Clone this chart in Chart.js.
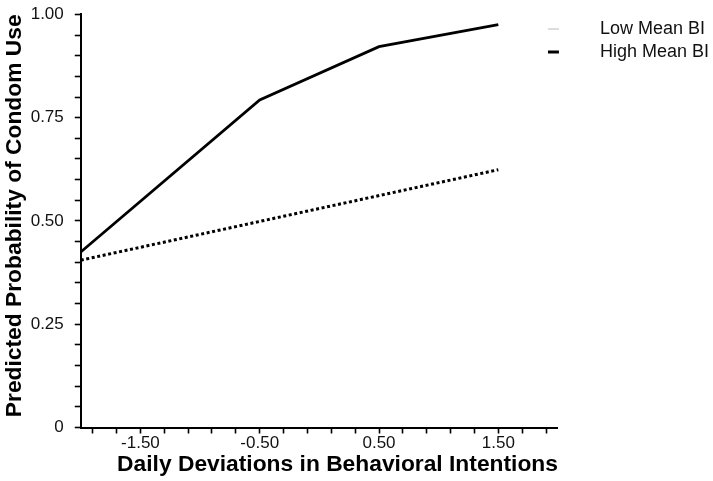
<!DOCTYPE html>
<html>
<head>
<meta charset="utf-8">
<script src="https://cdn.jsdelivr.net/npm/chart.js@4/dist/chart.umd.min.js"></script>
<style>
  html, body { margin: 0; padding: 0; background: #fff; }
  #wrap { width: 713px; height: 481px; }
</style>
</head>
<body>
<div id="wrap"><canvas id="chart"></canvas></div>
<script>
// data
let seriesNames = ["Low Mean BI", "High Mean BI"];
let lowX = [-2.0, 1.5];
let lowY = [0.405, 0.624];
let highX = [-2.0, -0.5, 0.5, 1.5];
let highY = [0.425, 0.793, 0.922, 0.975];

// tick marks and their labels
let xTicks = [-1.9, -1.7, -1.5, -1.3, -1.1, -0.9, -0.7, -0.5, -0.3, -0.1, 0.1, 0.3, 0.5, 0.7, 0.9, 1.1, 1.3, 1.5, 1.7, 1.9];
let xLabelValues = [-1.5, -0.5, 0.5, 1.5];
let xLabelText = ["-1.50", "-0.50", "0.50", "1.50"];
let yTicks = [0, 0.05, 0.1, 0.15, 0.2, 0.25, 0.3, 0.35, 0.4, 0.45, 0.5, 0.55, 0.6, 0.65, 0.7, 0.75, 0.8, 0.85, 0.9, 0.95, 1.0];
let yLabelValues = [0, 0.25, 0.5, 0.75, 1.0];
let yLabelText = ["0", "0.25", "0.50", "0.75", "1.00"];

const FONT = "'Liberation Sans', Arial, Helvetica, sans-serif";

// legend samples: thin grey for low, thick black for high
let swatchColors = ["#bbbbbb", "#000000"];
let swatchWidths = [1, 3];

function toPoints(xs, ys) {
    return xs.map((x, i) => ({ x: x, y: ys[i] }));
}

function labelFor(value, values, texts) {
    let i = values.findIndex(v => Math.abs(v - value) < 1e-6);
    return i >= 0 ? texts[i] : "";
}

// draws the short line samples just left of each legend entry
const legendSwatches = {
    id: "legendSwatches",
    afterDraw(ch) {
        let boxes = ch.legend && ch.legend.legendHitBoxes;
        if (!boxes) return;
        let ctx = ch.ctx;
        ctx.save();
        boxes.forEach((b, i) => {
            let y = b.top + b.height / 2;
            ctx.strokeStyle = swatchColors[i];
            ctx.lineWidth = swatchWidths[i];
            ctx.beginPath();
            ctx.moveTo(b.left - 15, y);
            ctx.lineTo(b.left - 4, y);
            ctx.stroke();
        });
        ctx.restore();
    }
};

let chart = new Chart(document.getElementById("chart"), {
    type: "line",
    data: {
        datasets: [
            {
                label: seriesNames[0],
                data: toPoints(lowX, lowY),
                borderColor: "#000",
                borderWidth: 3,
                borderDash: [3, 2.6],
                pointRadius: 0,
                tension: 0,
                fill: false,
                clip: false
            },
            {
                label: seriesNames[1],
                data: toPoints(highX, highY),
                borderColor: "#000",
                borderWidth: 2.8,
                pointRadius: 0,
                tension: 0,
                fill: false,
                clip: false
            }
        ]
    },
    plugins: [legendSwatches],
    options: {
        responsive: true,
        maintainAspectRatio: false,
        animation: false,
        layout: { padding: { top: 12, left: 0, right: -6, bottom: 4 } },
        plugins: {
            tooltip: { enabled: false },
            legend: {
                position: "right",
                align: "start",
                title: {
                    display: true,
                    text: "",
                    font: { size: 3, lineHeight: 1 },
                    padding: 0
                },
                labels: {
                    boxWidth: 28,
                    boxHeight: 18,
                    padding: 5,
                    color: "#111",
                    font: { family: FONT, size: 18 },
                    generateLabels: ch => ch.data.datasets.map((ds, i) => ({
                        text: ds.label,
                        fillStyle: "rgba(0,0,0,0)",
                        strokeStyle: "rgba(0,0,0,0)",
                        lineWidth: 0,
                        fontColor: "#111",
                        hidden: false,
                        datasetIndex: i
                    }))
                }
            }
        },
        scales: {
            x: {
                type: "linear",
                min: -2,
                max: 2,
                afterBuildTicks: s => { s.ticks = xTicks.map(v => ({ value: v })); },
                ticks: {
                    autoSkip: false,
                    maxRotation: 0,
                    padding: 0,
                    color: "#111",
                    font: { family: FONT, size: 17 },
                    callback: v => labelFor(v, xLabelValues, xLabelText)
                },
                grid: {
                    drawOnChartArea: false,
                    drawTicks: true,
                    tickLength: 6,
                    tickWidth: 1.6,
                    tickColor: "#000"
                },
                border: { display: true, color: "#000", width: 2 },
                title: {
                    display: true,
                    text: "Daily Deviations in Behavioral Intentions",
                    align: "end",
                    color: "#000",
                    font: { family: FONT, size: 22.8, weight: "bold", lineHeight: 1.1 },
                    padding: { top: -2, bottom: 0 }
                }
            },
            y: {
                type: "linear",
                min: 0,
                max: 1,
                afterBuildTicks: s => { s.ticks = yTicks.map(v => ({ value: v })); },
                ticks: {
                    autoSkip: false,
                    padding: 11,
                    color: "#111",
                    font: { family: FONT, size: 17, lineHeight: 0.4 },
                    callback: v => labelFor(v, yLabelValues, yLabelText)
                },
                grid: {
                    drawOnChartArea: false,
                    drawTicks: true,
                    tickLength: 6,
                    tickWidth: 1.6,
                    tickColor: "#000"
                },
                border: { display: true, color: "#000", width: 2 },
                title: {
                    display: true,
                    text: "Predicted Probability of Condom Use",
                    align: "end",
                    color: "#000",
                    font: { family: FONT, size: 22.8, weight: "bold", lineHeight: 0.6 },
                    padding: { top: 8, bottom: -2 }
                }
            }
        }
    }
});
</script>
</body>
</html>
